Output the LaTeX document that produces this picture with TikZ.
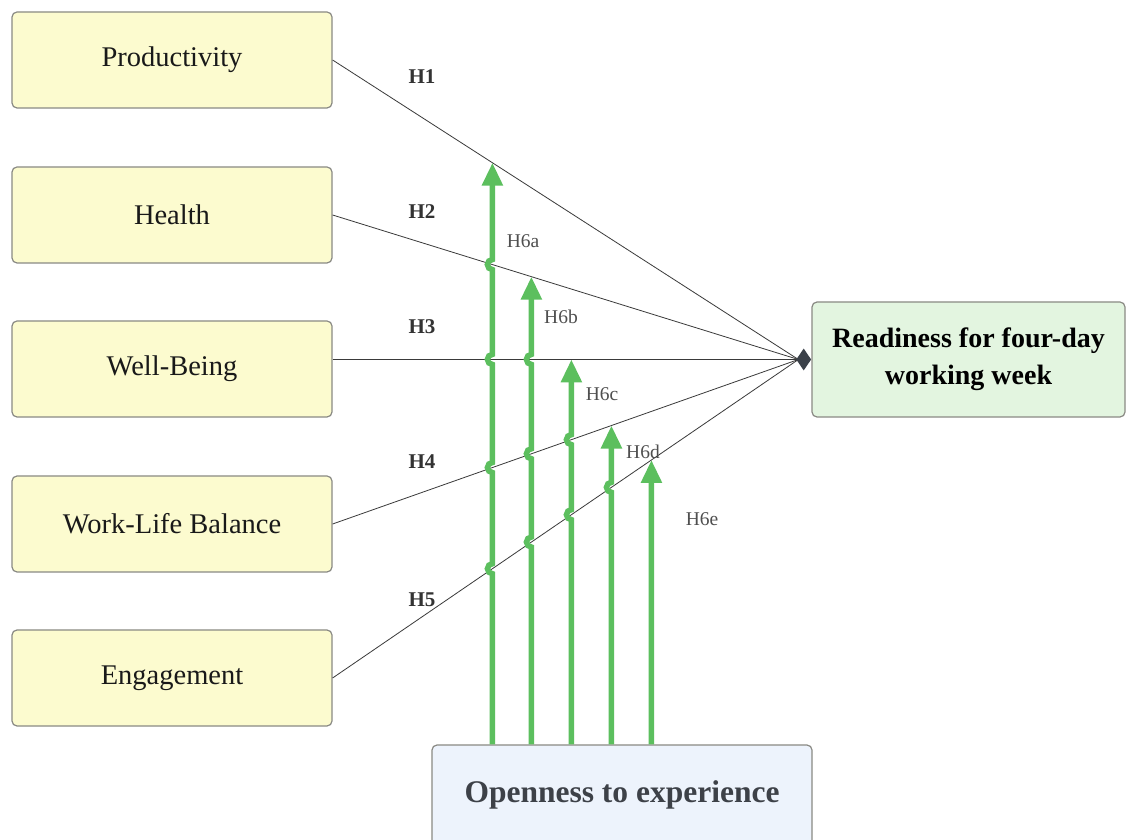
\documentclass[tikz,border=0pt]{standalone}
\usepackage{fontspec}
\setmainfont{Liberation Serif}
\usetikzlibrary{arrows.meta,calc,shapes.geometric}

\definecolor{boxline}{HTML}{8A8A84}
\definecolor{yellowfill}{HTML}{FCFBCF}
\definecolor{greenfill}{HTML}{E3F5E0}
\definecolor{bluefill}{HTML}{EDF3FC}
\definecolor{linkgray}{HTML}{3A3A3A}
\definecolor{arrowgreen}{HTML}{5CBF5E}
\definecolor{tipgray}{HTML}{3B4149}
\definecolor{labelgray}{HTML}{4F4F4F}
\definecolor{opentext}{HTML}{3D4148}

\tikzset{
  factor/.style={draw=boxline, line width=1.2pt, fill=yellowfill, rounded corners=5pt,
    minimum width=320pt, minimum height=96pt, inner sep=0pt,
    font=\fontsize{28.5}{32}\selectfont, text=black!90},
  outcome/.style={draw=boxline, line width=1.2pt, fill=greenfill, rounded corners=5pt,
    minimum width=313pt, minimum height=115pt, inner sep=0pt, align=center,
    font=\fontsize{28}{37}\selectfont\bfseries, text=black},
  moderator/.style={draw=boxline, line width=1.2pt, fill=bluefill, rounded corners=5pt,
    minimum width=380pt, minimum height=100pt, inner sep=0pt,
    font=\fontsize{31.5}{34}\selectfont\bfseries, text=opentext},
  link/.style={draw=linkgray, line width=0.8pt},
  garrow/.style={draw=arrowgreen, line width=5.5pt,
    -{Triangle[width=20pt,length=23pt]}},
  hlabel/.style={font=\fontsize{21}{23}\selectfont\bfseries, text=black!80},
  mlabel/.style={font=\fontsize{19.5}{21}\selectfont, text=labelgray}
}

\begin{document}
\begin{tikzpicture}[x=1pt,y=1pt]
\clip (0,0) rectangle (1128,839);
\useasboundingbox (0,0) rectangle (1128,839);
\fill[white] (0,0) rectangle (1128,839);

% predictor boxes
\node[factor] (prod)   at (172,779) {Productivity};
\node[factor] (health) at (172,624) {Health};
\node[factor] (well)   at (172,470) {Well-Being};
\node[factor] (wlb)    at (172,315) {Work-Life Balance};
\node[factor] (eng)    at (172,161) {Engagement};

% outcome and moderator
\node[outcome] (ready) at (968.5,479.5) {Readiness for four-day\\working week};
\node[moderator] (open) at (622,44) {Openness to experience};

% junction of the direct paths
\coordinate (j) at ($(ready.west)+(-13,0)$);
\coordinate (wstart) at (well.east |- j);

\draw[link] (prod.east)   -- (j);
\draw[link] (health.east) -- (j);
\draw[link] (wstart)      -- (j);
\draw[link] (wlb.east)    -- (j);
\draw[link] (eng.east)    -- (j);

\node[diamond, fill=tipgray, minimum width=15pt, minimum height=22pt, inner sep=0pt,
      anchor=east] (tip) at (ready.west) {};

% moderation arrows: base points and vertical guides
\foreach \n/\dx in {a/61,b/100,c/140,d/180,e/220}{
  \coordinate (g\n)  at ($(open.north west)+(\dx,0)$);
  \coordinate (g\n t) at ($(g\n)+(0,800)$);
}

% crossings with the direct paths
\coordinate (a1) at (intersection of ga--gat and prod.east--j);
\coordinate (a2) at (intersection of ga--gat and health.east--j);
\coordinate (a3) at (intersection of ga--gat and wstart--j);
\coordinate (a4) at (intersection of ga--gat and wlb.east--j);
\coordinate (a5) at (intersection of ga--gat and eng.east--j);

\coordinate (b2) at (intersection of gb--gbt and health.east--j);
\coordinate (b3) at (intersection of gb--gbt and wstart--j);
\coordinate (b4) at (intersection of gb--gbt and wlb.east--j);
\coordinate (b5) at (intersection of gb--gbt and eng.east--j);

\coordinate (c3) at (intersection of gc--gct and wstart--j);
\coordinate (c4) at (intersection of gc--gct and wlb.east--j);
\coordinate (c5) at (intersection of gc--gct and eng.east--j);

\coordinate (d4) at (intersection of gd--gdt and wlb.east--j);
\coordinate (d5) at (intersection of gd--gdt and eng.east--j);

\coordinate (e5) at (intersection of ge--get and eng.east--j);

\def\hopr{5}
\draw[garrow] (ga) -- ($(a5)+(0,-\hopr)$) arc[start angle=270,end angle=90,radius=\hopr]
  -- ($(a4)+(0,-\hopr)$) arc[start angle=270,end angle=90,radius=\hopr]
  -- ($(a3)+(0,-\hopr)$) arc[start angle=270,end angle=90,radius=\hopr]
  -- ($(a2)+(0,-\hopr)$) arc[start angle=270,end angle=90,radius=\hopr]
  -- (a1);
\draw[garrow] (gb) -- ($(b5)+(0,-\hopr)$) arc[start angle=270,end angle=90,radius=\hopr]
  -- ($(b4)+(0,-\hopr)$) arc[start angle=270,end angle=90,radius=\hopr]
  -- ($(b3)+(0,-\hopr)$) arc[start angle=270,end angle=90,radius=\hopr]
  -- (b2);
\draw[garrow] (gc) -- ($(c5)+(0,-\hopr)$) arc[start angle=270,end angle=90,radius=\hopr]
  -- ($(c4)+(0,-\hopr)$) arc[start angle=270,end angle=90,radius=\hopr]
  -- (c3);
\draw[garrow] (gd) -- ($(d5)+(0,-\hopr)$) arc[start angle=270,end angle=90,radius=\hopr]
  -- (d4);
\draw[garrow] (ge) -- (e5);

% hypothesis labels
\node[hlabel] (h1) at (422,762) {H1};
\node[hlabel] (h2) at (422,627) {H2};
\node[hlabel] (h3) at (422,512) {H3};
\node[hlabel] (h4) at (422,377) {H4};
\node[hlabel] (h5) at (422,239) {H5};

\node[mlabel] (h6a) at (523,598) {H6a};
\node[mlabel] (h6b) at (561,522) {H6b};
\node[mlabel] (h6c) at (602,445) {H6c};
\node[mlabel] (h6d) at (643,387) {H6d};
\node[mlabel] (h6e) at (702,320) {H6e};
\end{tikzpicture}
\end{document}
